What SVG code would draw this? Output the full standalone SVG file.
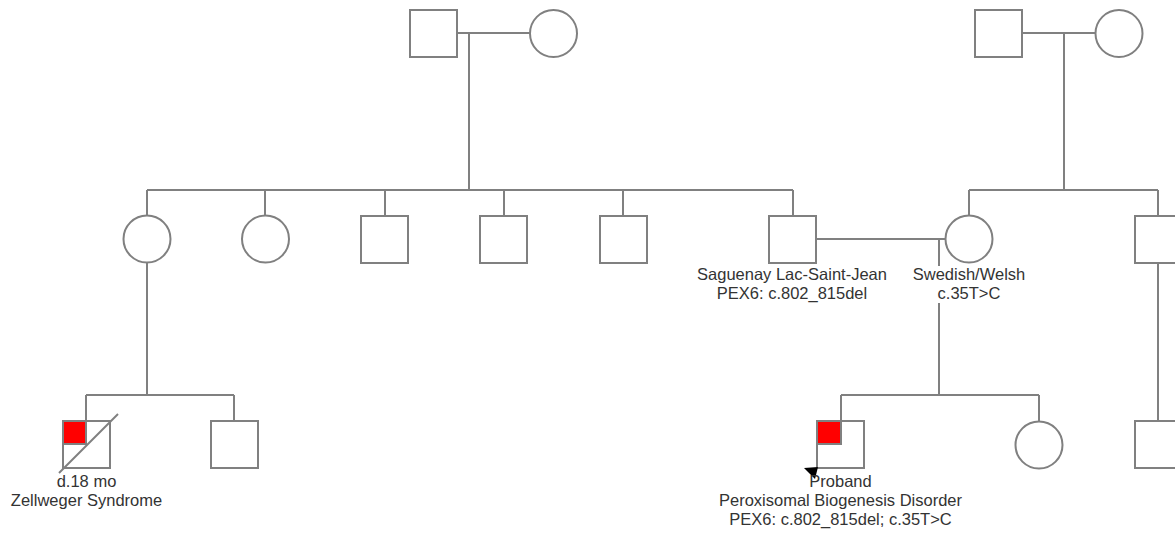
<svg xmlns="http://www.w3.org/2000/svg" width="1175" height="537" viewBox="0 0 1175 537">
<style>
.n{fill:#fff;stroke:#808080;stroke-width:2}
.a{fill:#ff0000;stroke:#808080;stroke-width:2}
.c{fill:none;stroke:#808080;stroke-width:2}
.t{font-family:"Liberation Sans",Arial,sans-serif;font-size:16.5px;fill:#333;text-anchor:middle}
</style>
<rect x="0" y="0" width="1175" height="537" fill="#fff"/>
<g id="connectors">
<path class="c" d="M457 33H530M469 33V190M147 190H793M147 190V216M265 190V216M385 190V216M504 190V216M623 190V216M793 190V216"/>
<path class="c" d="M1022 33H1096M1064 33V190M969 190H1158M969 190V216M1158 190V216"/>
<path class="c" d="M816 239H946M939 239V395M841 395H1039M841 395V421M1039 395V422"/>
<path class="c" d="M147 262V395M86 395H234M86 395V421M234 395V421"/>
<path class="c" d="M1158 262V421"/>
</g>
<g id="gp1-male"><rect class="n" x="410" y="10" width="47" height="47"/></g>
<g id="gp1-female"><circle class="n" cx="553.5" cy="33.5" r="23.5"/></g>
<g id="gp2-male"><rect class="n" x="975" y="10" width="47" height="47"/></g>
<g id="gp2-female"><circle class="n" cx="1119" cy="33.5" r="23.5"/></g>
<g id="aunt1"><circle class="n" cx="147" cy="239" r="23.5"/></g>
<g id="aunt2"><circle class="n" cx="265.5" cy="239" r="23.5"/></g>
<g id="uncle1"><rect class="n" x="361" y="216" width="47" height="47"/></g>
<g id="uncle2"><rect class="n" x="480" y="216" width="47" height="47"/></g>
<g id="uncle3"><rect class="n" x="600" y="216" width="47" height="47"/></g>
<g id="father">
<rect class="n" x="769" y="216" width="47" height="47"/>
<text class="t" x="792" y="280">Saguenay Lac-Saint-Jean</text>
<text class="t" x="792" y="299">PEX6: c.802_815del</text>
</g>
<g id="mother">
<circle class="n" cx="969" cy="239" r="23.5"/>
<rect x="911" y="266" width="117" height="37" fill="#fff"/>
<text class="t" x="969" y="280">Swedish/Welsh</text>
<text class="t" x="969" y="299">c.35T&gt;C</text>
</g>
<g id="uncle-right"><rect class="n" x="1135" y="216" width="47" height="47"/></g>
<g id="cousin-affected">
<rect class="n" x="63" y="421" width="47" height="47"/>
<rect class="a" x="63" y="421" width="23" height="23"/>
<path class="c" d="M59 473L118 414"/>
<text class="t" x="86.5" y="487">d.18 mo</text>
<text class="t" x="86.5" y="506">Zellweger Syndrome</text>
</g>
<g id="cousin2"><rect class="n" x="211" y="421" width="47" height="47"/></g>
<g id="proband">
<rect class="n" x="817" y="421" width="47" height="47"/>
<rect class="a" x="817" y="421" width="24" height="23"/>
<polygon points="804,468 818,467 815,479" fill="#000"/>
<text class="t" x="840.5" y="487">Proband</text>
<text class="t" x="840.5" y="506">Peroxisomal Biogenesis Disorder</text>
<text class="t" x="840.5" y="525">PEX6: c.802_815del; c.35T&gt;C</text>
</g>
<g id="sister"><circle class="n" cx="1039" cy="445" r="23.5"/></g>
<g id="cousin-right"><rect class="n" x="1135" y="421" width="47" height="47"/></g>
</svg>
